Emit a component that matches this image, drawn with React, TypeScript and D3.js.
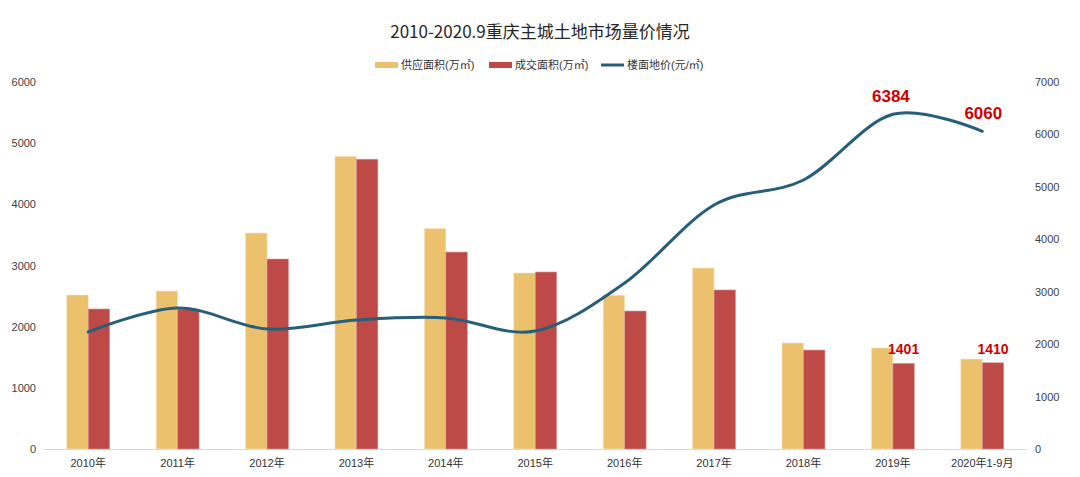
import React from "react";
import * as d3 from "d3";

const categories = ["2010年", "2011年", "2012年", "2013年", "2014年", "2015年", "2016年", "2017年", "2018年", "2019年", "2020年1-9月"];
const supply = [2518, 2583, 3531, 4785, 3605, 2877, 2515, 2959, 1733, 1651, 1471];
const deal = [2289, 2285, 3106, 4738, 3220, 2894, 2256, 2600, 1618, 1401, 1410];
const price = [2232, 2690, 2289, 2460, 2500, 2250, 3166, 4654, 5131, 6384, 6060];
const leftTicks = [0, 1000, 2000, 3000, 4000, 5000, 6000];
const rightTicks = [0, 1000, 2000, 3000, 4000, 5000, 6000, 7000];
const seriesNames = ["供应面积(万㎡)", "成交面积(万㎡)", "楼面地价(元/㎡)"];
const priceLabels = [{ i: 9, v: 6384 }, { i: 10, v: 6060 }];
const dealLabels = [{ i: 9, v: 1401 }, { i: 10, v: 1410 }];

const W = 1080, H = 477;
const X0 = 43.5, X1 = 1027, Y0 = 449, Y1 = 82;
const COL_Y = "#ECC16D", COL_R = "#BE4A47", COL_L = "#275E7A", COL_LBL = "#D00000";
const FONT = "'Liberation Sans', Arial, 'Noto Sans CJK SC', sans-serif";

export default function App() {
  const x = d3.scaleBand<string>().domain(categories).range([X0, X1]);
  const yL = d3.scaleLinear().domain([0, 6000]).range([Y0, Y1]);
  const yR = d3.scaleLinear().domain([0, 7000]).range([Y0, Y1]);
  const bw = x.bandwidth() * 0.24;
  const cx = (i: number) => (x(categories[i]) as number) + x.bandwidth() / 2;
  const line = d3.line<number>().x((_, i) => cx(i)).y((d) => yR(d)).curve(d3.curveCardinal.tension(0));

  const legendItems = [
    { x: 375, color: COL_Y, type: "bar" },
    { x: 489, color: COL_R, type: "bar" },
    { x: 601, color: COL_L, type: "line" },
  ];

  return (
    <svg width={W} height={H} style={{ position: "absolute", left: 0, top: 0, fontFamily: FONT }}>
      <rect width={W} height={H} fill="#fff" />
      <text x={540} y={38} textAnchor="middle" fontSize={17} fill="#262626" fontFamily="'Noto Sans CJK SC', sans-serif">
        2010-2020.9重庆主城土地市场量价情况
      </text>
      {legendItems.map((l, i) => (
        <g key={i}>
          {l.type === "bar" ? (
            <rect x={l.x} y={62} width={23} height={6} fill={l.color} />
          ) : (
            <rect x={l.x} y={63.5} width={23} height={3} fill={l.color} />
          )}
          <text x={l.x + 26} y={69} fontSize={11} fill="#333">{seriesNames[i]}</text>
        </g>
      ))}
      {leftTicks.map((t) => (
        <text key={"l" + t} x={36} y={yL(t) + 4} textAnchor="end" fontSize={11} fill="#404040">{t}</text>
      ))}
      {rightTicks.map((t) => (
        <text key={"r" + t} x={1035} y={yR(t) + 4} textAnchor="start" fontSize={11} fill="#404040">{t}</text>
      ))}
      <line x1={X0} x2={X1} y1={Y0 + 0.5} y2={Y0 + 0.5} stroke="#D9D9D9" strokeWidth={1} />
      {categories.map((c, i) => (
        <g key={c}>
          <rect x={cx(i) - bw} y={yL(supply[i])} width={bw} height={Y0 - yL(supply[i])} fill={COL_Y} stroke="#F7E3BE" strokeWidth={0.6} />
          <rect x={cx(i)} y={yL(deal[i])} width={bw} height={Y0 - yL(deal[i])} fill={COL_R} stroke="#DA9A98" strokeWidth={0.6} />
          <text x={cx(i)} y={467} textAnchor="middle" fontSize={11} fill="#333">{c}</text>
        </g>
      ))}
      <path d={line(price) as string} fill="none" stroke={COL_L} strokeWidth={3} strokeLinecap="round" />
      {priceLabels.map((p) => (
        <text key={"p" + p.i} x={cx(p.i) + (p.i === 9 ? -2 : 1)} y={yR(p.v) - 12} textAnchor="middle" fontSize={17} fontWeight="bold" fill={COL_LBL}>{p.v}</text>
      ))}
      {dealLabels.map((p) => (
        <text key={"d" + p.i} x={cx(p.i) + bw / 2} y={yL(p.v) - 9} textAnchor="middle" fontSize={14} fontWeight="bold" fill={COL_LBL}>{p.v}</text>
      ))}
    </svg>
  );
}
